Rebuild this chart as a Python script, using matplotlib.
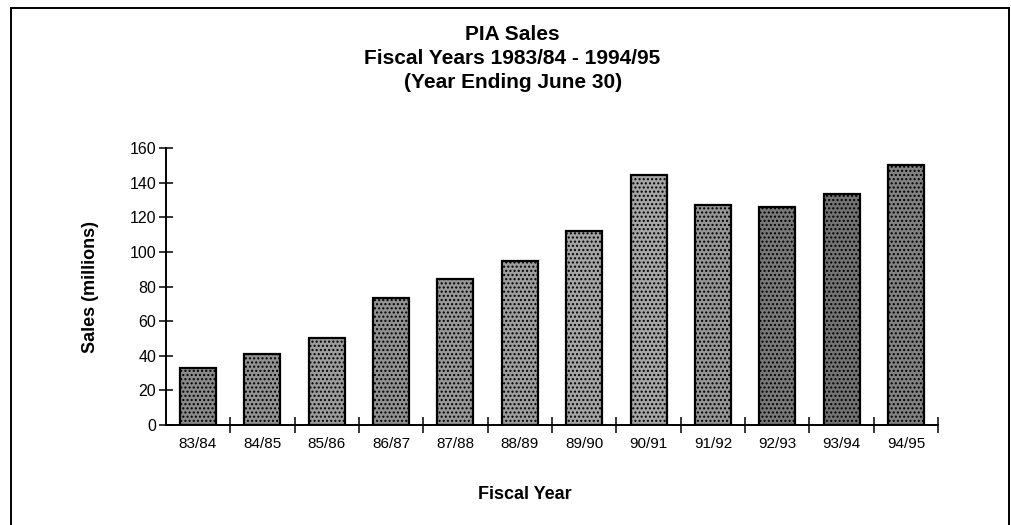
import matplotlib
matplotlib.use("Agg")
import matplotlib.pyplot as plt
from matplotlib.lines import Line2D
import numpy as np

years = ["83/84", "84/85", "85/86", "86/87", "87/88", "88/89",
         "89/90", "90/91", "91/92", "92/93", "93/94", "94/95"]
sales = [33, 41, 50.5, 73.5, 84.5, 95, 112, 144.5, 127.5, 126, 133.5, 150.5]
shades = ["#8a8a8a", "#929292", "#9c9c9c", "#919191", "#989898", "#9e9e9e",
          "#a4a4a4", "#a6a6a6", "#959595", "#797979", "#737373", "#828282"]

plt.rcParams["font.family"] = ["Liberation Sans", "DejaVu Sans"]

fig = plt.figure(figsize=(10.11, 5.25), dpi=100)
ax = fig.add_axes([0.164, 0.1905, 0.764, 0.527])

x = np.arange(len(years))
ax.bar(x, sales, width=0.56, color=shades, edgecolor="black", linewidth=1.6,
       hatch="....", zorder=2)

ax.set_xlim(-0.5, len(years) - 0.5)
ax.set_ylim(0, 160)
ax.set_yticks(np.arange(0, 161, 20))
ax.set_xticks(x)
ax.set_xticklabels(years, fontsize=11)
ax.tick_params(axis="x", length=0, pad=9)
ax.set_xticks(np.arange(0.5, len(years)), minor=True)
ax.tick_params(axis="x", which="minor", direction="inout", length=12, width=1.1)
ax.tick_params(axis="y", direction="inout", length=10, width=1.1, labelsize=11.5, pad=2)

for s in ("top", "right"):
    ax.spines[s].set_visible(False)
for s in ("left", "bottom"):
    ax.spines[s].set_linewidth(1.4)

ax.set_ylabel("Sales (millions)", fontsize=13, fontweight="bold", va="center")
ax.yaxis.set_label_coords(-0.098, 0.5)
ax.set_xlabel("Fiscal Year", fontsize=13, fontweight="bold", va="center")
ax.xaxis.set_label_coords(0.465, -0.253)

title_font = ["Liberation Sans Narrow", "Liberation Sans", "DejaVu Sans"]
fig.text(0.507, 0.935, "PIA Sales", ha="center", va="center",
         fontsize=15, fontweight="bold", family=title_font)
fig.text(0.507, 0.889, "Fiscal Years 1983/84 - 1994/95", ha="center", va="center",
         fontsize=15, fontweight="bold", family=title_font)
fig.text(0.507, 0.843, "(Year Ending June 30)", ha="center", va="center",
         fontsize=15, fontweight="bold", family=title_font)

# frame around the chart page
top = 1 - 8 / 525
left = 11 / 1011
right = 1009 / 1011
fig.add_artist(Line2D([left, left], [0, top], color="black", lw=1.4))
fig.add_artist(Line2D([left, right], [top, top], color="black", lw=1.4))
fig.add_artist(Line2D([right, right], [0, top], color="black", lw=1.4))

fig.savefig("out.png", dpi=100)
